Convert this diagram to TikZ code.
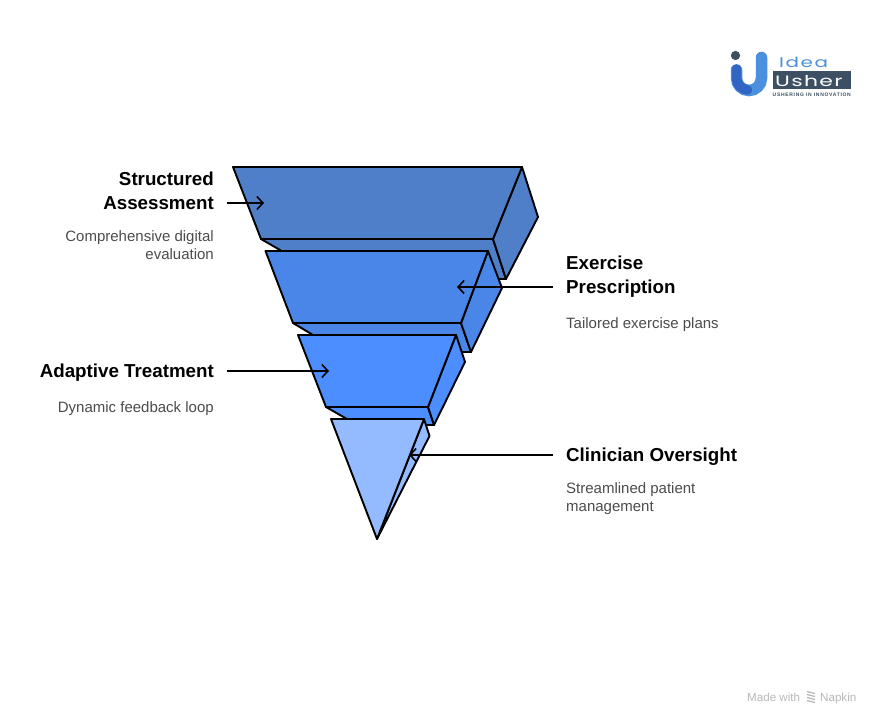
\documentclass[tikz,border=0pt]{standalone}
\usepackage{fontspec}
\usepackage{graphicx}
\setmainfont{Liberation Sans}
\newfontfamily\logofont{Poppins}
\usetikzlibrary{arrows.meta}
\tikzset{
  x=1pt,y=-1pt,
  face/.style={draw=black,line width=1.9pt,line join=round},
  pointer/.style={draw=black,line width=1.6pt,-{Straight Barb[length=6pt,width=13pt,line width=1.6pt]}},
  head/.style={inner sep=0pt,font=\fontsize{18.75}{24}\selectfont\bfseries},
  desc/.style={inner sep=0pt,text=black!70,font=\fontsize{15}{18}\selectfont},
  foot/.style={inner sep=0pt,anchor=base west,text=black!28,font=\fontsize{11.6}{12}\selectfont},
  logotext/.style={inner sep=0pt,anchor=base west},
}
\definecolor{cA}{HTML}{4F7FC9}
\definecolor{cB}{HTML}{4A86E8}
\definecolor{cC}{HTML}{4C8DFF}
\definecolor{cD}{HTML}{94BAFF}
\definecolor{logoDark}{HTML}{3D4F63}
\definecolor{logoBlue}{HTML}{3264C4}
\definecolor{logoLight}{HTML}{4A90DC}
\begin{document}
\begin{tikzpicture}
\useasboundingbox (0,0) rectangle (880,725);
\fill[white] (0,0) rectangle (880,725);
% level 1
\draw[face,fill=cA] (261,239) -- (280,250) -- (300,279) -- (506,279) -- (493,239) -- cycle;
\draw[face,fill=cA] (522,167) -- (538,217) -- (506,279) -- (493,239) -- cycle;
\draw[face,fill=cA] (233,167) -- (522,167) -- (493,239) -- (261,239) -- cycle;
% level 2
\draw[face,fill=cB] (293,323) -- (313,335) -- (330,352) -- (471,352) -- (461,323) -- cycle;
\draw[face,fill=cB] (488,251) -- (502,288) -- (471,352) -- (461,323) -- cycle;
\draw[face,fill=cB] (265.5,251) -- (488,251) -- (461,323) -- (293,323) -- cycle;
% level 3
\draw[face,fill=cC] (326,407) -- (347,419) -- (360,425) -- (434,425) -- (428,407) -- cycle;
\draw[face,fill=cC] (456,335) -- (465,362) -- (434,425) -- (428,407) -- cycle;
\draw[face,fill=cC] (298,335) -- (456,335) -- (428,407) -- (326,407) -- cycle;
% level 4
\draw[face,fill=cD] (424,419) -- (429.5,436) -- (377,539) -- cycle;
\draw[face,fill=cD] (331,419) -- (424,419) -- (377,539) -- cycle;
% connectors
\coordinate (a1) at (227,203); \coordinate (a2) at (264,203);
\coordinate (b1) at (553,287); \coordinate (b2) at (457,287);
\coordinate (c1) at (227,371); \coordinate (c2) at (329,371);
\coordinate (d1) at (553,455); \coordinate (d2) at (409,455);
\draw[pointer] (a1) -- (a2);
\draw[pointer] (b1) -- (b2);
\draw[pointer] (c1) -- (c2);
\draw[pointer] (d1) -- (d2);
% texts
\node[head,anchor=north east,align=right] (t1) at (214,172) {Structured\\Assessment};
\node[desc,anchor=north east,align=right] (t1d) at (214,230) {Comprehensive digital\\evaluation};
\node[head,anchor=north west,align=left] (t2) at (566,256) {Exercise\\Prescription};
\node[desc,anchor=north west,align=left] (t2d) at (566,317) {Tailored exercise plans};
\node[head,anchor=north east,align=right] (t3) at (214,364) {Adaptive Treatment};
\node[desc,anchor=north east,align=right] (t3d) at (214,401) {Dynamic feedback loop};
\node[head,anchor=north west,align=left] (t4) at (566,448) {Clinician Oversight};
\node[desc,anchor=north west,align=left] (t4d) at (566,482) {Streamlined patient\\management};
% logo
\fill[logoDark] (735.5,55.5) circle (4.6);
\draw[logoLight,line width=11.5pt,line cap=round] (761.5,57.5) -- (761.5,78) arc (0:180:12.5) -- (736.5,70);
\draw[logoBlue,line width=9.5pt,line cap=round] (736.5,69) -- (736.5,78) arc (180:95:12);
\node[logotext,text=logoLight,font=\logofont\fontsize{14}{14}\selectfont] (idea) at (779,67.5) {\scalebox{1.42}[1]{\addfontfeature{LetterSpace=8}Idea}};
\fill[logoDark] (773,71) rectangle (851,88.5);
\node[logotext,text=white,font=\logofont\fontsize{15}{15}\selectfont] (usher) at (775,86.5) {\scalebox{1.46}[1]{\addfontfeature{LetterSpace=6}Usher}};
\node[logotext,text=logoDark,font=\fontsize{5}{5}\selectfont\bfseries] (tag) at (772.5,96.8) {\addfontfeature{LetterSpace=14}USHERING IN INNOVATION};
% footer
\node[foot] (made) at (747,701) {Made with};
\node[foot] (nap) at (820,701) {Napkin};
\foreach \yy in {693,696,699,702}
  \draw[black!28,line width=1.3pt] (807,\yy-1.5) -- (815,\yy+0.5);
\end{tikzpicture}
\end{document}
